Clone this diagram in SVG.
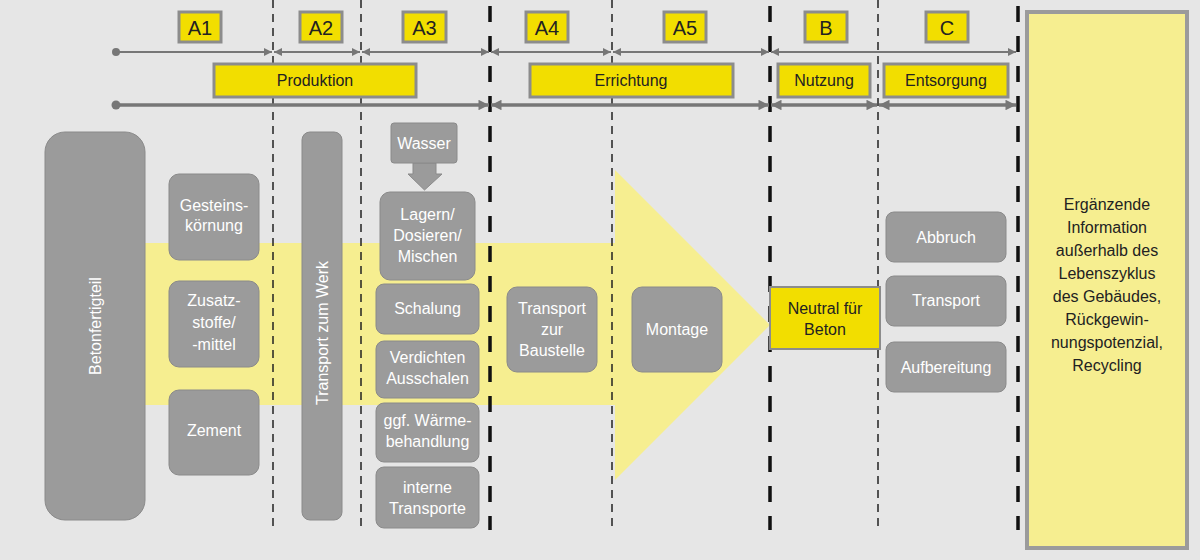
<svg xmlns="http://www.w3.org/2000/svg" width="1200" height="560" viewBox="0 0 1200 560">
<style>
text{font-family:"Liberation Sans",Arial,sans-serif;}
.g{fill:#9b9b9b;stroke:#8a8a8a;stroke-width:1}
.w{fill:#fff;font-size:16px;text-anchor:middle}
.y{fill:#f2de00;stroke:#8c8c8c;stroke-width:3}
.k{fill:#222;font-size:16px;text-anchor:middle}
.kl{fill:#222;font-size:20px;text-anchor:middle}
.thin{stroke:#222;stroke-width:1.5;stroke-dasharray:8 6}
.thick{stroke:#111;stroke-width:3.5;stroke-dasharray:16 14}
</style>
<defs>
<marker id="ah" viewBox="0 0 10 10" refX="10" refY="5" markerWidth="5" markerHeight="4" orient="auto-start-reverse" markerUnits="strokeWidth"><path d="M0,0L10,5L0,10z" fill="#777"/></marker>
<marker id="ah2" viewBox="0 0 10 10" refX="10" refY="5" markerWidth="4" markerHeight="3" orient="auto-start-reverse" markerUnits="strokeWidth"><path d="M0,0L10,5L0,10z" fill="#777"/></marker>
</defs>
<rect width="1200" height="560" fill="#e6e6e6"/>
<polygon points="145,243 615,243 615,170 770,325 615,480 615,405 145,405" fill="#f6ee90"/>
<g id="dividers">
<line class="thin" x1="273" y1="0" x2="273" y2="530"/>
<line class="thin" x1="361" y1="0" x2="361" y2="530"/>
<line class="thin" x1="612" y1="0" x2="612" y2="530"/>
<line class="thin" x1="878" y1="0" x2="878" y2="530"/>
<line class="thick" x1="490" y1="6" x2="490" y2="530"/>
<line class="thick" x1="770" y1="6" x2="770" y2="530"/>
<line class="thick" x1="1018" y1="6" x2="1018" y2="530"/>
</g>
<g id="connectors" fill="none" stroke="#777">
<circle cx="116" cy="52" r="4" fill="#777" stroke="none"/>
<line x1="116" y1="52" x2="272" y2="52" stroke-width="2" marker-end="url(#ah)"/>
<line x1="274" y1="52" x2="360" y2="52" stroke-width="2" marker-start="url(#ah)" marker-end="url(#ah)"/>
<line x1="362" y1="52" x2="489" y2="52" stroke-width="2" marker-start="url(#ah)" marker-end="url(#ah)"/>
<line x1="491" y1="52" x2="611" y2="52" stroke-width="2" marker-start="url(#ah)" marker-end="url(#ah)"/>
<line x1="613" y1="52" x2="769" y2="52" stroke-width="2" marker-start="url(#ah)" marker-end="url(#ah)"/>
<line x1="771" y1="52" x2="1016" y2="52" stroke-width="2" marker-start="url(#ah)" marker-end="url(#ah)"/>
<circle cx="116" cy="105" r="4.5" fill="#777" stroke="none"/>
<line x1="116" y1="105" x2="489" y2="105" stroke-width="3.5" marker-end="url(#ah2)"/>
<line x1="491" y1="105" x2="769" y2="105" stroke-width="3.5" marker-start="url(#ah2)" marker-end="url(#ah2)"/>
<line x1="771" y1="105" x2="877" y2="105" stroke-width="3.5" marker-start="url(#ah2)" marker-end="url(#ah2)"/>
<line x1="879" y1="105" x2="1016" y2="105" stroke-width="3.5" marker-start="url(#ah2)" marker-end="url(#ah2)"/>
<polygon points="413,163 436,163 436,174 442,174 424.5,190 408,174 413,174" fill="#9b9b9b" stroke="#8a8a8a"/>
</g>
<g id="labels">
<rect class="y" x="179" y="12" width="42" height="30"/><text class="kl" x="200" y="35">A1</text>
<rect class="y" x="300" y="12" width="42" height="30"/><text class="kl" x="321" y="35">A2</text>
<rect class="y" x="403" y="12" width="43" height="30"/><text class="kl" x="424.5" y="35">A3</text>
<rect class="y" x="526" y="12" width="42" height="30"/><text class="kl" x="547" y="35">A4</text>
<rect class="y" x="664" y="12" width="42" height="30"/><text class="kl" x="685" y="35">A5</text>
<rect class="y" x="805" y="12" width="42" height="30"/><text class="kl" x="826" y="35">B</text>
<rect class="y" x="926" y="12" width="42" height="30"/><text class="kl" x="947" y="35">C</text>
<rect class="y" x="214" y="64" width="202" height="33"/><text class="k" x="315" y="86">Produktion</text>
<rect class="y" x="530" y="64" width="203" height="33"/><text class="k" x="631" y="86">Errichtung</text>
<rect class="y" x="778" y="64" width="92" height="33"/><text class="k" x="824" y="86">Nutzung</text>
<rect class="y" x="884" y="64" width="124" height="33"/><text class="k" x="946" y="86">Entsorgung</text>
</g>
<g id="betonfertigteil"><rect class="g" x="45" y="132" width="100" height="388" rx="20"/><text class="w" font-size="19" transform="translate(101,326) rotate(-90)">Betonfertigteil</text></g>
<g id="gestein"><rect class="g" x="169" y="174" width="90" height="86" rx="10"/><text class="w" x="214" y="211">Gesteins-</text><text class="w" x="214" y="231">körnung</text></g>
<g id="zusatz"><rect class="g" x="169" y="281" width="90" height="86" rx="10"/><text class="w" x="214" y="306">Zusatz-</text><text class="w" x="214" y="328">stoffe/</text><text class="w" x="214" y="350">-mittel</text></g>
<g id="zement"><rect class="g" x="169" y="390" width="90" height="85" rx="10"/><text class="w" x="214" y="436">Zement</text></g>
<g id="transportwerk"><rect class="g" x="302" y="132" width="40" height="388" rx="8"/><text class="w" font-size="19" transform="translate(328,333) rotate(-90)">Transport zum Werk</text></g>
<g id="wasser"><rect class="g" x="391" y="123" width="66" height="40" rx="3"/><text class="w" x="424" y="149">Wasser</text></g>
<g id="lagern"><rect class="g" x="380" y="192" width="95" height="88" rx="10"/><text class="w" x="427.5" y="220">Lagern/</text><text class="w" x="427.5" y="241">Dosieren/</text><text class="w" x="427.5" y="262">Mischen</text></g>
<g id="schalung"><rect class="g" x="376" y="284" width="103" height="50" rx="8"/><text class="w" x="427.5" y="314">Schalung</text></g>
<g id="verdichten"><rect class="g" x="376" y="341" width="103" height="57" rx="8"/><text class="w" x="427.5" y="363">Verdichten</text><text class="w" x="427.5" y="384">Ausschalen</text></g>
<g id="waerme"><rect class="g" x="376" y="403" width="103" height="59" rx="8"/><text class="w" x="427.5" y="426">ggf. Wärme-</text><text class="w" x="427.5" y="447">behandlung</text></g>
<g id="interne"><rect class="g" x="376" y="467" width="103" height="61" rx="8"/><text class="w" x="427.5" y="493">interne</text><text class="w" x="427.5" y="514">Transporte</text></g>
<g id="transportbau"><rect class="g" x="507" y="287" width="90" height="85" rx="10"/><text class="w" x="552" y="314">Transport</text><text class="w" x="552" y="335">zur</text><text class="w" x="552" y="356">Baustelle</text></g>
<g id="montage"><rect class="g" x="632" y="287" width="90" height="85" rx="10"/><text class="w" x="677" y="335">Montage</text></g>
<g id="neutral"><rect x="770" y="287" width="110" height="62" fill="#f2de00" stroke="#8c8c8c" stroke-width="2"/><text class="k" x="825" y="314">Neutral für</text><text class="k" x="825" y="335">Beton</text></g>
<g id="abbruch"><rect class="g" x="886" y="212" width="120" height="50" rx="8"/><text class="w" x="946" y="243">Abbruch</text></g>
<g id="transportC"><rect class="g" x="886" y="276" width="120" height="50" rx="8"/><text class="w" x="946" y="306">Transport</text></g>
<g id="aufbereitung"><rect class="g" x="886" y="342" width="120" height="50" rx="8"/><text class="w" x="946" y="373">Aufbereitung</text></g>
<g id="info"><rect x="1027" y="12" width="160" height="536" fill="#f6ee90" stroke="#9b9b9b" stroke-width="4"/>
<g class="k" fill="#222"><text class="k" x="1107" y="210">Ergänzende</text><text class="k" x="1107" y="233">Information</text><text class="k" x="1107" y="256">außerhalb des</text><text class="k" x="1107" y="279">Lebenszyklus</text><text class="k" x="1107" y="302">des Gebäudes,</text><text class="k" x="1107" y="325">Rückgewin-</text><text class="k" x="1107" y="348">nungspotenzial,</text><text class="k" x="1107" y="371">Recycling</text></g></g>
</svg>
